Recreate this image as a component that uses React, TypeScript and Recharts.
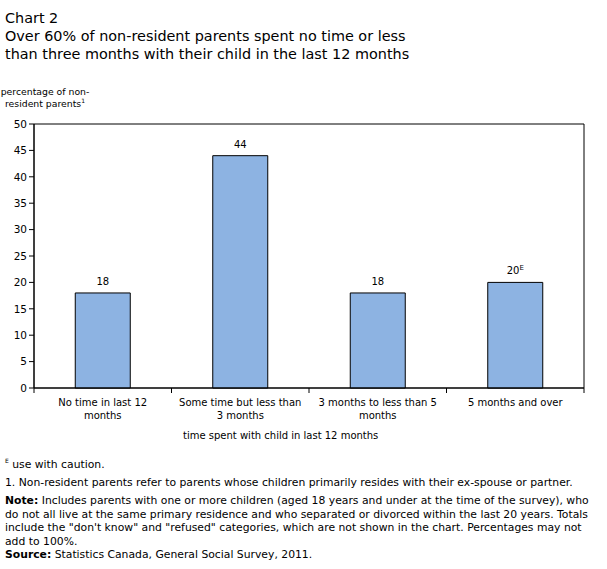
import React from "react";
import { BarChart, Bar, XAxis, YAxis, LabelList, ReferenceArea } from "recharts";

// Share of non-resident parents by time spent with their child
const categories = [
  "No time in last 12 months",
  "Some time but less than 3 months",
  "3 months to less than 5 months",
  "5 months and over",
];
const categoryLines = [
  ["No time in last 12", "months"],
  ["Some time but less than", "3 months"],
  ["3 months to less than 5", "months"],
  ["5 months and over"],
];
const percentages = [18, 44, 18, 20];
const qualityFlags = ["", "", "", "E"];
const yTicks = [0, 5, 10, 15, 20, 25, 30, 35, 40, 45, 50];

const data = categories.map((name, i) => ({
  name,
  value: percentages[i],
  flag: qualityFlags[i],
}));

const FONT = "Verdana, 'DejaVu Sans', sans-serif";
const BAR_FILL = "#8DB3E2";

function CategoryTick(props: any) {
  const { x, y, payload, index, visibleTicksCount, width } = props;
  const half =
    payload && payload.offset ? payload.offset : width / visibleTicksCount / 2;
  const lines = categoryLines[index] || [String(payload.value)];
  const axisY = y - 8;
  return (
    <g>
      <line x1={x - half} x2={x - half} y1={axisY} y2={axisY + 5} stroke="#000" />
      {index === visibleTicksCount - 1 && (
        <line x1={x + half} x2={x + half} y1={axisY} y2={axisY + 5} stroke="#000" />
      )}
      <text
        x={x}
        y={y}
        textAnchor="middle"
        fontFamily={FONT}
        fontSize={10}
        fill="#000"
      >
        {lines.map((ln: string, i: number) => (
          <tspan key={i} x={x} dy={i === 0 ? 10 : 13}>
            {ln}
          </tspan>
        ))}
      </text>
    </g>
  );
}

function ValueLabel(props: any) {
  const { x, y, width, value, index } = props;
  const flag = qualityFlags[index];
  return (
    <text
      x={x + width / 2}
      y={y - 8}
      textAnchor="middle"
      fontFamily={FONT}
      fontSize={10}
      fill="#000"
    >
      {value}
      {flag && (
        <tspan fontSize={7} dy={-4}>
          {flag}
        </tspan>
      )}
    </text>
  );
}

const noteLines = [
  'Includes parents with one or more children (aged 18 years and under at the time of the survey), who',
  "do not all live at the same primary residence and who separated or divorced within the last 20 years. Totals",
  'include the "don\'t know" and "refused" categories, which are not shown in the chart. Percentages may not',
  "add to 100%.",
];

export default function App() {
  return (
    <div
      style={{
        position: "absolute",
        left: 0,
        top: 0,
        width: 607,
        height: 569,
        background: "#fff",
        fontFamily: FONT,
        color: "#000",
        overflow: "hidden",
      }}
    >
      <div
        style={{
          position: "absolute",
          left: 5,
          top: 9,
          fontSize: 14.4,
          lineHeight: "18px",
          whiteSpace: "nowrap",
        }}
      >
        <div>Chart 2</div>
        <div>Over 60% of non-resident parents spent no time or less</div>
        <div>than three months with their child in the last 12 months</div>
      </div>

      <div
        style={{
          position: "absolute",
          left: 0,
          top: 86,
          width: 90,
          fontSize: 9.3,
          lineHeight: "12px",
          textAlign: "center",
          whiteSpace: "nowrap",
        }}
      >
        percentage of non-
        <br />
        resident parents<sup style={{ fontSize: 6, lineHeight: 0 }}>1</sup>
      </div>

      <div style={{ position: "absolute", left: 0, top: 0 }}>
        <BarChart
          width={607}
          height={569}
          data={data}
          margin={{ top: 124, right: 23, bottom: 121, left: 4 }}
          barCategoryGap="30%"
        >
          <XAxis
            dataKey="name"
            height={60}
            interval={0}
            tickLine={false}
            axisLine={{ stroke: "#000" }}
            tick={<CategoryTick />}
          />
          <YAxis
            domain={[0, 50]}
            ticks={yTicks}
            interval={0}
            width={30}
            tickSize={5}
            tickLine={{ stroke: "#000" }}
            axisLine={{ stroke: "#000" }}
            tick={{ fontFamily: FONT, fontSize: 10.5, fill: "#000" }}
          />
          <ReferenceArea
            y1={0}
            y2={50}
            fill="none"
            fillOpacity={0}
            stroke="#000"
            strokeWidth={1}
          />
          <Bar
            dataKey="value"
            fill={BAR_FILL}
            stroke="#000"
            strokeWidth={1}
            isAnimationActive={false}
          >
            <LabelList dataKey="value" content={<ValueLabel />} />
          </Bar>
        </BarChart>
      </div>

      <div
        style={{
          position: "absolute",
          left: 183,
          top: 430,
          fontSize: 10,
          whiteSpace: "nowrap",
        }}
      >
        time spent with child in last 12 months
      </div>

      <div
        style={{
          position: "absolute",
          left: 5,
          top: 458,
          width: 602,
          fontSize: 10.8,
          lineHeight: "13.5px",
          whiteSpace: "nowrap",
        }}
      >
        <div>
          <sup style={{ fontSize: 6, lineHeight: 0 }}>E</sup> use with caution.
        </div>
        <div style={{ marginTop: 4 }}>
          1. Non-resident parents refer to parents whose children primarily
          resides with their ex-spouse or partner.
        </div>
        <div style={{ marginTop: 5 }}>
          <b>Note:</b> {noteLines[0]}
          {noteLines.slice(1).map((ln, i) => (
            <div key={i}>{ln}</div>
          ))}
        </div>
        <div>
          <b>Source:</b> Statistics Canada, General Social Survey, 2011.
        </div>
      </div>
    </div>
  );
}
